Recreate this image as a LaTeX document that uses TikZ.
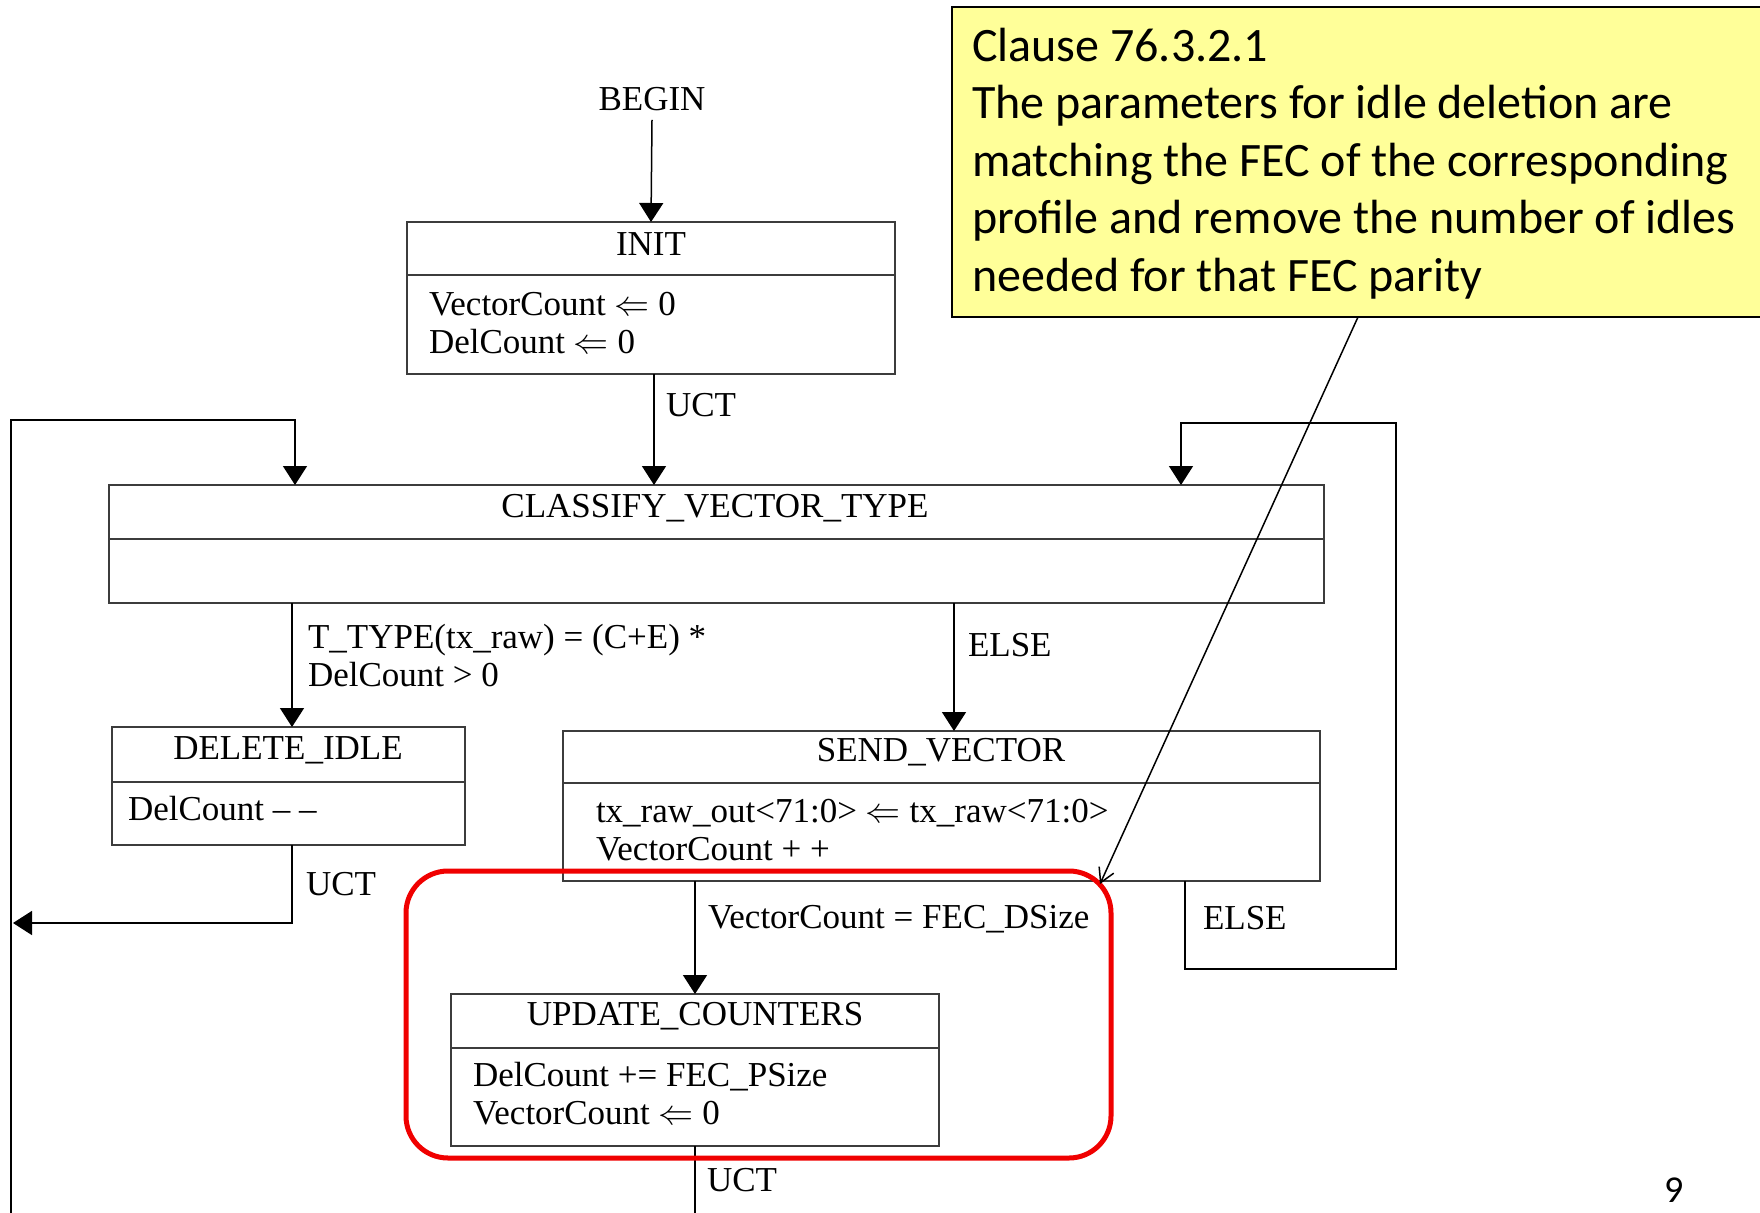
\RequirePackage{fix-cm}
\documentclass[tikz,border=0pt]{standalone}
\usepackage{fontspec}
\setmainfont{Liberation Serif}
\newfontfamily\notefont{Carlito}
\usetikzlibrary{arrows.meta}

\definecolor{noteyellow}{RGB}{255,255,153}
\definecolor{boxline}{RGB}{60,60,60}
\definecolor{hlred}{RGB}{240,0,0}

\begin{document}
\begin{tikzpicture}[x=1pt,y=-1pt,
  every node/.style={font=\fontsize{35}{38}\selectfont, inner sep=0pt, outer sep=0pt},
  statebox/.style={draw=boxline, line width=1.8pt, anchor=north west},
  divider/.style={draw=boxline, line width=1.8pt},
  link/.style={line width=1.5pt},
  arr/.style={link, -{Triangle[width=24pt,length=19pt]}},
  lbl/.style={anchor=west, align=left},
  notearrow/.style={line width=1.5pt, -{Straight Barb[length=14pt,width=16pt]}},
]
\useasboundingbox (0,0) rectangle (1760,1212);
\clip (0,0) rectangle (1760,1212);
\fill[white] (0,0) rectangle (1760,1212);

% ---------- states ----------
\node (begin) at (652,99) {BEGIN};

\node[statebox, minimum width=488pt, minimum height=152pt] (init) at (407,222) {};
\draw[divider] (init.west |- 0,275) -- (init.east |- 0,275);
\node (initT) at (651,244) {INIT};
\node[lbl] (initB) at (429,323) {VectorCount $\Leftarrow$ 0\\DelCount $\Leftarrow$ 0};

\node[statebox, minimum width=1215pt, minimum height=118pt] (classify) at (109,485) {};
\draw[divider] (classify.west |- 0,539) -- (classify.east |- 0,539);
\node (classifyT) at (715,508) {CLASSIFY\_VECTOR\_TYPE};

\node[statebox, minimum width=353pt, minimum height=118pt] (delete) at (112,727) {};
\draw[divider] (delete.west |- 0,782) -- (delete.east |- 0,782);
\node (deleteT) at (288,750) {DELETE\_IDLE};
\node[lbl] (deleteB) at (128,809) {DelCount -- --};

\node[statebox, minimum width=757pt, minimum height=150pt] (send) at (563,731) {};
\draw[divider] (send.west |- 0,783) -- (send.east |- 0,783);
\node (sendT) at (941,752) {SEND\_VECTOR};
\node[lbl] (sendB) at (596,830) {tx\_raw\_out<71:0> $\Leftarrow$ tx\_raw<71:0>\\VectorCount + +};

\node[statebox, minimum width=488pt, minimum height=152pt] (update) at (451,994) {};
\draw[divider] (update.west |- 0,1048) -- (update.east |- 0,1048);
\node (updateT) at (695,1016) {UPDATE\_COUNTERS};
\node[lbl] (updateB) at (473,1094) {DelCount += FEC\_PSize\\VectorCount $\Leftarrow$ 0};

% ---------- transitions ----------
\draw[arr] ([yshift=-9pt]begin.south) -- (init.north);

\draw[arr] ([xshift=3pt]init.south) -- ([xshift=3pt]init.south |- classify.north);
\node[lbl] (uct1) at (666,405) {UCT};

% loop back into CLASSIFY_VECTOR_TYPE from the left
\coordinate (loopL) at (11,1215);
\coordinate (loopLt) at (295,420);
\draw[arr] (loopL) |- (loopLt) -- (loopLt |- classify.north);

% loop back into CLASSIFY_VECTOR_TYPE from the right (ELSE of SEND_VECTOR)
\coordinate (elseB) at (1185,969);
\coordinate (loopRc) at (1396,423);
\coordinate (loopRt) at (1181,423);
\draw[arr] (send.south -| elseB) -- (elseB) -| (loopRc) -- (loopRt) -- (loopRt |- classify.north);
\node[lbl] (else2) at (1203,918) {ELSE};

\draw[arr] ([xshift=3.5pt]delete.north |- classify.south) -- ([xshift=3.5pt]delete.north);
\node[lbl] (cond1) at (308,656) {T\_TYPE(tx\_raw) = (C+E) *\\DelCount > 0};

\draw[arr] ([xshift=12.5pt]send.north |- classify.south) -- ([xshift=12.5pt]send.north);
\node[lbl] (else1) at (968,645) {ELSE};

\coordinate (ret) at (13,923);
\draw[arr] ([xshift=3.5pt]delete.south) |- (ret);
\node[lbl] (uct2) at (306,884) {UCT};

\draw[arr] (update.north |- send.south) -- (update.north);
\node[lbl] (cond2) at (708,919) {VectorCount = FEC\_DSize};

\coordinate (bottom) at (695,1215);
\draw[link] (update.south) -- (bottom);
\node[lbl] (uct3) at (707,1180) {UCT};

% ---------- highlight ----------
\node[draw=hlred, line width=5pt, rounded corners=42pt, minimum width=705pt,
      minimum height=287pt, anchor=north west] (focus) at (406,871) {};

% ---------- note ----------
\node[draw=black, fill=noteyellow, line width=2pt, minimum width=820pt,
      minimum height=310pt, anchor=north west] (note) at (952,7) {};
\node[anchor=north west, align=left, font=\notefont\fontsize{48}{57.5}\selectfont]
  (noteT) at (972,28) {Clause 76.3.2.1\\The parameters for idle deletion are\\matching the FEC of the corresponding\\profile and remove the number of idles\\needed for that FEC parity};
\coordinate (noteTip) at (1100,884);
\draw[notearrow] ([xshift=-4pt]note.south) -- (noteTip);

\node[anchor=north west, font=\notefont\fontsize{38}{44}\selectfont] (pageno) at (1664,1178) {9};
\end{tikzpicture}
\end{document}
